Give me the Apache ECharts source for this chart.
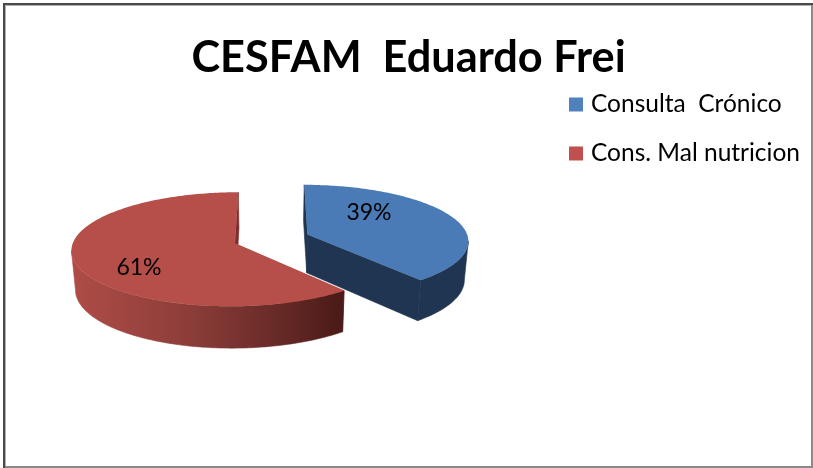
<!DOCTYPE html>
<html>
<head>
<meta charset="utf-8">
<style>html,body{margin:0;padding:0;background:#fff}#c{width:813px;height:468px}</style>
<script src="https://cdn.jsdelivr.net/npm/echarts@6/dist/echarts.min.js"></script>
</head>
<body>
<div id="c"></div>
<script>
var titleText = 'CESFAM  Eduardo Frei';
var categories = ['Consulta  Crónico', 'Cons. Mal nutricion'];
var values = [39, 61];

var FONT = 'Lato, Carlito, "Noto Sans", sans-serif';
var total = values[0] + values[1];
var chart = echarts.init(document.getElementById('c'), null, {renderer: 'canvas'});

// tilted, slightly perspective disc geometry
var VX = 271.5, VY = 239, R = 161, TILT = 0.345, PERSP = 0.1, EXPLODE = 38.5, DEPTH = 38.5, FAR = 0.98;

function project(ox, oy, r, deg, lower) {
  var a = deg * Math.PI / 180;
  var X = ox + r * Math.sin(a), Y = oy + r * Math.cos(a);
  var s = 1 / (1 + PERSP * Y / R);
  var f = lower ? FAR : 1;
  return [VX + X * s * f, VY - Y * TILT * s * f + (lower ? DEPTH * s : 0)];
}
function arc(ox, oy, from, to, lower) {
  var pts = [], n = Math.max(2, Math.ceil(Math.abs(to - from)));
  for (var i = 0; i <= n; i++) pts.push(project(ox, oy, R, from + (to - from) * i / n, lower));
  return pts;
}
// the part of an arc on the viewer's side: x falls as the angle grows
function frontPart(pts) {
  var a = -1, b = -1;
  for (var k = 0; k < pts.length - 1; k++) {
    if (pts[k + 1][0] < pts[k][0]) { if (a < 0) a = k; b = k + 1; }
  }
  return a < 0 ? [] : pts.slice(a, b + 1);
}
function poly(points, fill, z) {
  return {type: 'polygon', shape: {points: points}, style: {fill: fill, stroke: fill, lineWidth: 0.6}, z2: z};
}

var looks = [
  {top: '#4a7bb7', wall: '#1f3552', cut: '#1f3552', cutFar: '#1f3552', label: [369, 213]},
  {top: '#b64f4a', cut: '#a5443f', cutFar: '#7a2f2c', label: [139, 267.5],
   wall: new echarts.graphic.LinearGradient(71, 0, 340, 0, [
     {offset: 0, color: '#b04c47'},
     {offset: 0.45, color: '#8b3d39'},
     {offset: 0.8, color: '#642825'},
     {offset: 1, color: '#4a1b18'}
   ], true)}
];

function sliceRender(index) {
  return function (params, api) {
    var before = 0;
    for (var i = 0; i < index; i++) before += values[i];
    var v = api.value(0);
    var from = before / total * 360, to = (before + v) / total * 360;
    var mid = (from + to) / 2 * Math.PI / 180;
    var ox = EXPLODE * Math.sin(mid), oy = EXPLODE * Math.cos(mid);
    var look = looks[index];
    var apexT = project(ox, oy, 0, 0, false), apexB = project(ox, oy, 0, 0, true);
    var topArc = arc(ox, oy, from, to, false);
    var lowArc = arc(ox, oy, from, to, true);
    var children = [];
    // cut faces at both radial edges
    children.push(poly([apexT, topArc[topArc.length - 1], lowArc[lowArc.length - 1], apexB], look.cutFar, 1));
    children.push(poly([apexT, topArc[0], lowArc[0], apexB], look.cut, 2));
    // outer wall
    children.push(poly(frontPart(topArc).concat(frontPart(lowArc).reverse()), look.wall, 3));
    // top face
    children.push({type: 'polygon', shape: {points: [apexT].concat(topArc)}, style: {fill: look.top}, z2: 4});
    children.push({type: 'text', z2: 5, style: {
      text: Math.round(v / total * 100) + '%',
      x: look.label[0], y: look.label[1], align: 'center', verticalAlign: 'middle',
      fill: '#000', font: '23px ' + FONT
    }});
    return {type: 'group', children: children};
  };
}

chart.setOption({
  animation: false,
  backgroundColor: '#ffffff',
  title: {
    text: titleText, left: 403.5, top: 31.5, textAlign: 'center',
    textStyle: {fontFamily: FONT, fontWeight: 'bold', fontSize: 43.3, color: '#000'}
  },
  legend: {
    orient: 'vertical', left: 569, top: 92, padding: 0, itemWidth: 14, itemHeight: 14, itemGap: 24,
    icon: 'rect', data: categories,
    selectedMode: false,
    textStyle: {fontFamily: FONT, fontSize: 24.5, lineHeight: 24, color: '#000', padding: [0, 0, 0, 3]}
  },
  graphic: [
    {type: 'rect', shape: {x: 3, y: 4, width: 2, height: 464}, style: {fill: '#4a4a4a'}, silent: true},
    {type: 'rect', shape: {x: 5, y: 6, width: 1, height: 460}, style: {fill: '#b0b0b0'}, silent: true},
    {type: 'rect', shape: {x: 3, y: 3, width: 810, height: 2}, style: {fill: '#4a4a4a'}, silent: true},
    {type: 'rect', shape: {x: 5, y: 5, width: 806, height: 1}, style: {fill: '#b0b0b0'}, silent: true},
    {type: 'rect', shape: {x: 811, y: 5, width: 2, height: 463}, style: {fill: '#8a8a8a'}, silent: true},
    {type: 'rect', shape: {x: 5, y: 466, width: 808, height: 2}, style: {fill: '#8a8a8a'}, silent: true}
  ],
  series: categories.map(function (name, i) {
    return {
      type: 'custom', name: name, coordinateSystem: 'none',
      itemStyle: {color: ['#4f81bd', '#c0504d'][i]},
      renderItem: sliceRender(i),
      data: [[values[i]]],
      silent: true
    };
  })
});
</script>
</body>
</html>
